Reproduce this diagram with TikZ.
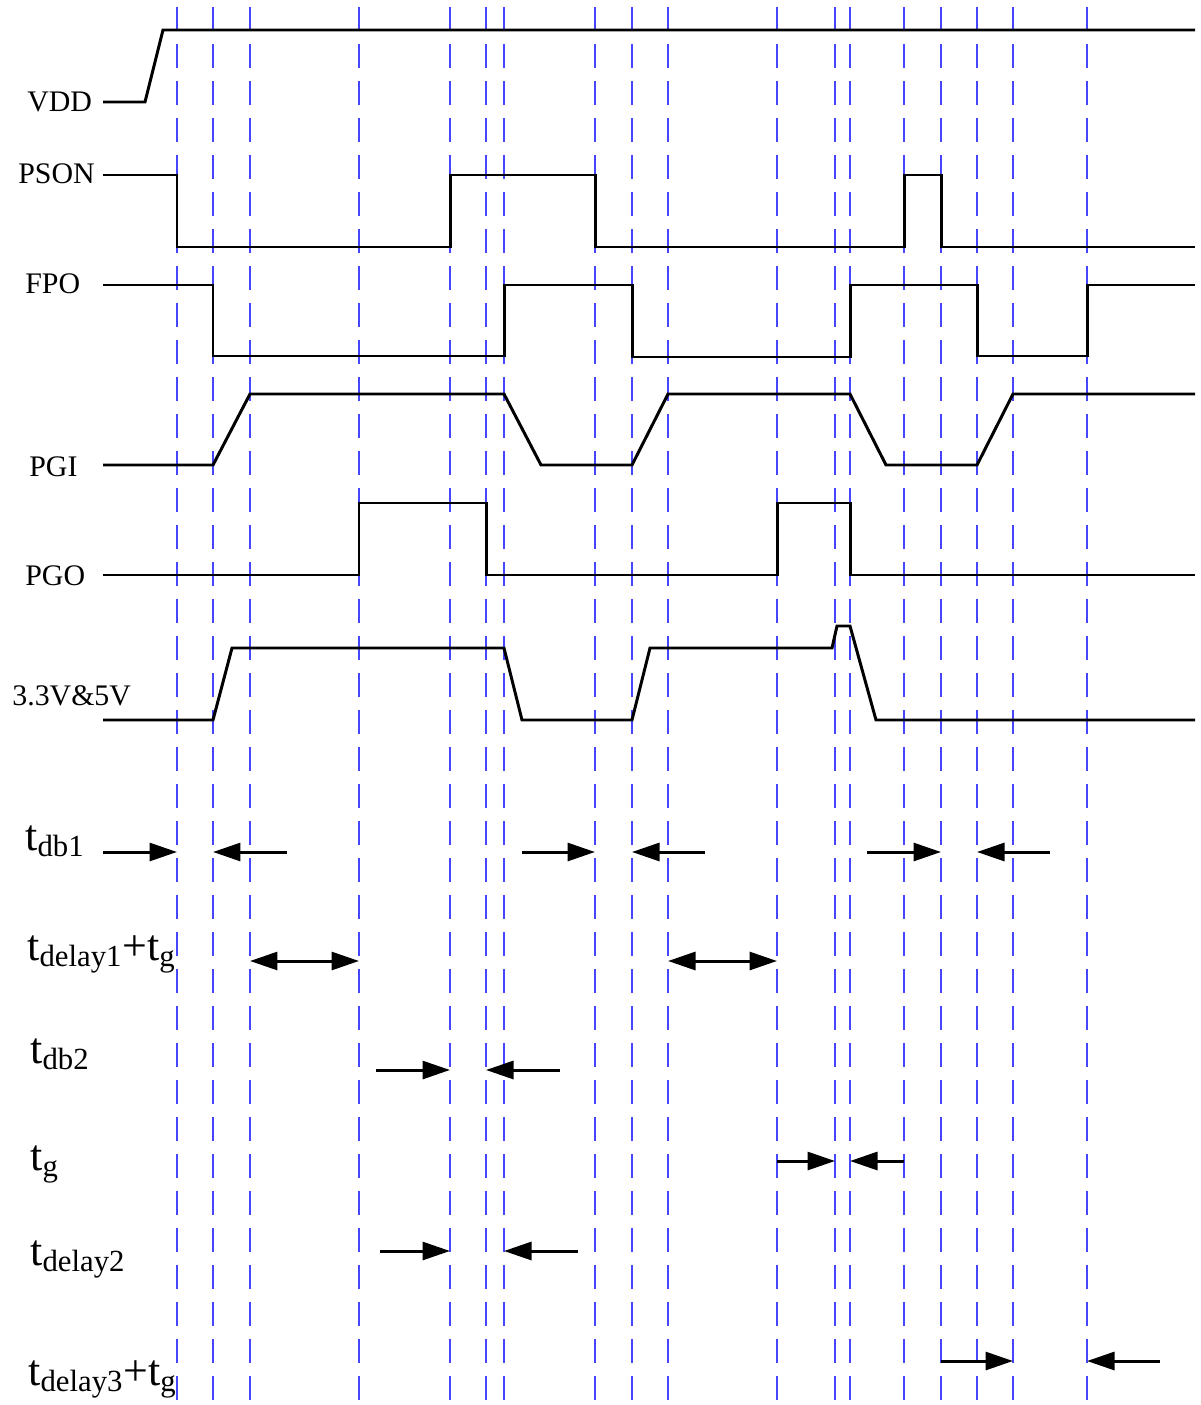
\documentclass[tikz,border=0pt]{standalone}
\usepackage{fontspec}
\setmainfont{Liberation Serif}
\usepackage{tikz}
\usetikzlibrary{arrows.meta}
\definecolor{guideblue}{RGB}{70,70,255}

\begin{document}
\begin{tikzpicture}
[
	x	= 0.02cm,	% one unit per pixel of the drawing
	y	= -0.02cm,	% downwards, as in the drawing
	wave/.style	= {line width = 1.7pt, black},
	guide/.style	= {line width = 1.1pt, guideblue, dash pattern = on 0.48cm off 0.26cm},
	tspan/.style	= {line width = 1.7pt, -{Triangle[length = 0.55cm, width = 0.36cm]}},
	tboth/.style	= {line width = 1.7pt, {Triangle[length = 0.55cm, width = 0.36cm]}-{Triangle[length = 0.55cm, width = 0.36cm]}},
	sig/.style	= {anchor = base west, inner sep = 0pt, font = \fontsize{17}{20}\selectfont},
	tlab/.style	= {anchor = base west, inner sep = 0pt, font = \fontsize{25}{30}\selectfont},
]

{
	\useasboundingbox (0,0) rectangle (1200,1405);

	% guide lines
	\foreach \gx in {177,213,250,359,450,486,504,595,632,668,777,835,850,904,941,977,1013,1087}
		\draw [guide] (\gx,7) -- (\gx,1405);

	% nodes declaration
	\node (nVdd) [sig] at (27,112) {VDD};
	\node (nPson) [sig] at (18,184) {PSON};
	\node (nFpo) [sig] at (25,294) {FPO};
	\node (nPgi) [sig] at (29,476) {PGI};
	\node (nPgo) [sig] at (25,585) {PGO};
	\node (nRail) [sig] at (12,705) {3.3V\&5V};

	\node (nTdbOne) [tlab] at (25,850) {t\textsubscript{db1}};
	\node (nTdelayOne) [tlab] at (27,960) {t\textsubscript{delay1}+t\textsubscript{g}};
	\node (nTdbTwo) [tlab] at (30,1063) {t\textsubscript{db2}};
	\node (nTg) [tlab] at (30,1170) {t\textsubscript{g}};
	\node (nTdelayTwo) [tlab] at (30,1265) {t\textsubscript{delay2}};
	\node (nTdelayThree) [tlab] at (28,1385) {t\textsubscript{delay3}+t\textsubscript{g}};

	% signals declaration
	\draw [wave] (103,102) -- (145,102) -- (163,30) -- (1195,30);
	\draw [wave] (103,175) -- (177,175) -- (177,247) -- (450,247) -- (450,175) -- (595,175) -- (595,247)
		-- (904,247) -- (904,175) -- (941,175) -- (941,247) -- (1195,247);
	\draw [wave] (103,285) -- (213,285) -- (213,356) -- (504,356) -- (504,285) -- (632,285) -- (632,357)
		-- (850,357) -- (850,285) -- (977,285) -- (977,356) -- (1087,356) -- (1087,285) -- (1195,285);
	\draw [wave] (103,465) -- (213,465) -- (250,394) -- (504,394) -- (541,465) -- (632,465) -- (668,394)
		-- (850,394) -- (886,465) -- (977,465) -- (1013,394) -- (1195,394);
	\draw [wave] (103,575) -- (359,575) -- (359,503) -- (486,503) -- (486,575) -- (777,575) -- (777,503)
		-- (850,503) -- (850,575) -- (1195,575);
	\draw [wave] (103,720) -- (213,720) -- (232,648) -- (504,648) -- (522,720) -- (632,720) -- (650,648)
		-- (832,648) -- (837,626) -- (850,626) -- (876,720) -- (1195,720);

	% spans declaration
	\draw [tspan] (103,852) -- (177,852);
	\draw [tspan] (287,852) -- (213,852);
	\draw [tspan] (522,852) -- (595,852);
	\draw [tspan] (705,852) -- (632,852);
	\draw [tspan] (867,852) -- (941,852);
	\draw [tspan] (1050,852) -- (977,852);

	\draw [tboth] (250,961) -- (359,961);
	\draw [tboth] (668,961) -- (777,961);

	\draw [tspan] (376,1070) -- (450,1070);
	\draw [tspan] (560,1070) -- (486,1070);

	\draw [tspan] (777,1161) -- (835,1161);
	\draw [tspan] (904,1161) -- (850,1161);

	\draw [tspan] (380,1251) -- (450,1251);
	\draw [tspan] (578,1251) -- (504,1251);

	\draw [tspan] (941,1361) -- (1013,1361);
	\draw [tspan] (1160,1361) -- (1087,1361);
}

\end{tikzpicture}
\end{document}
